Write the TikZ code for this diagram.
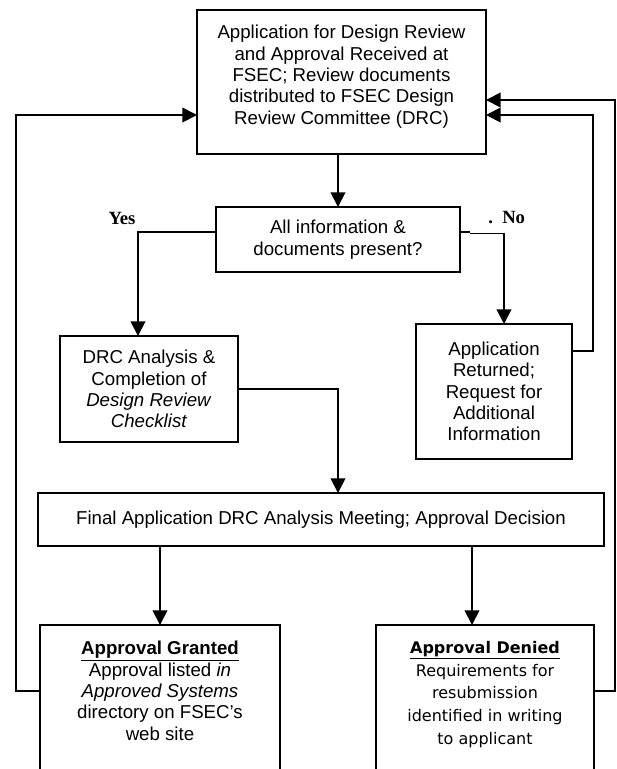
\documentclass[tikz,border=0pt]{standalone}
\usepackage{fontspec}
\setmainfont{Liberation Sans}
\newfontfamily\timesfont{Liberation Serif}
\newfontfamily\tahomafont{DejaVu Sans}
\usetikzlibrary{arrows.meta}
\tikzset{
  box/.style={draw, line width=1.4pt, outer sep=0pt, inner sep=0pt, align=center, anchor=north west},
  txt/.style={inner sep=0pt, align=center, anchor=north},
  lbl/.style={font=\timesfont\bfseries\fontsize{14}{16}\selectfont, inner sep=0pt},
  line/.style={line width=1.4pt}
}
\begin{document}
\begin{tikzpicture}[x=0.75pt, y=-0.75pt, >={Triangle[length=11pt,width=11pt]},
    font=\fontsize{14}{16}\selectfont]
  \useasboundingbox (0,0) rectangle (617,769);
  \clip (0,0) rectangle (617,769);
  % boxes
  \node[box, minimum width=216.75pt, minimum height=108pt] (app) at (197,10) {};
  \node[txt] (apptext) at ([yshift=-11.25pt]app.north) {Application for Design Review\\and Approval Received at\\FSEC; Review documents\\distributed to FSEC Design\\Review Committee (DRC)};
  \node[box, minimum width=183pt, minimum height=48.75pt] (dec) at (216,207) {All information \&\\documents present?};
  \node[box, minimum width=133.5pt, minimum height=79.5pt] (drc) at (60,336) {DRC Analysis \&\\Completion of\\\textit{Design Review}\\\textit{Checklist}};
  \node[box, minimum width=117pt, minimum height=101.25pt] (ret) at (416,324) {Application\\Returned;\\Request for\\Additional\\Information};
  \node[box, minimum width=424.5pt, minimum height=39.75pt] (fin) at (38,493) {Final Application DRC Analysis Meeting; Approval Decision};
  \node[box, minimum width=180pt, minimum height=150pt] (gra) at (40,625) {};
  \node[txt] (gratext) at ([yshift=-12pt]gra.north) {\textbf{\underline{Approval Granted}}\\Approval listed \textit{in}\\\textit{Approved Systems}\\directory on FSEC’s\\web site};
  \node[box, minimum width=163.5pt, minimum height=150pt] (den) at (376,625) {};
  \node[txt, font=\tahomafont\fontsize{12}{17}\selectfont] (dentext) at ([yshift=-12pt]den.north) {\textbf{\underline{Approval Denied}}\\Requirements for\\resubmission\\identified in writing\\to applicant};
  % labels
  \node[lbl] (yes) at (122,218) {Yes};
  \node[lbl, anchor=west] (no) at (488,218) {.\hspace{7pt}No};
  % bends
  \coordinate (yesc) at (138,232);
  \coordinate (noc) at (504,233);
  \coordinate (denc) at (472,0);
  \coordinate (lbot) at (16,691);
  \coordinate (ltop) at (16,115);
  \coordinate (rbot) at (593,351);
  \coordinate (rtop) at (593,115);
  \coordinate (obot) at (615,691);
  \coordinate (otop) at (615,100);
  % connectors
  \draw[line,->] (app.south -| dec.north) -- (dec.north);
  \draw[line,->] (dec.west |- yesc) -- (yesc) -- (yesc |- drc.north);
  \draw[line] (dec.east |- yesc) -- ++(10,0);
  \draw[thin] (470,233) -- (noc);
  \draw[line,->] (noc) -- (noc |- ret.north);
  \draw[line,->] (drc.east) -| (fin.north -| dec.south);
  \draw[line,->] (fin.south -| gra.north) -- (gra.north);
  \draw[line,->] (fin.south -| denc) -- (denc |- den.north);
  \draw[line,->] (gra.west |- lbot) -- (lbot) -- (ltop) -- (app.west |- ltop);
  \draw[line,->] (ret.east |- rbot) -- (rbot) -- (rtop) -- (app.east |- rtop);
  \draw[line,->] (den.east |- obot) -- (obot) -- (otop) -- (app.east |- otop);
\end{tikzpicture}
\end{document}
